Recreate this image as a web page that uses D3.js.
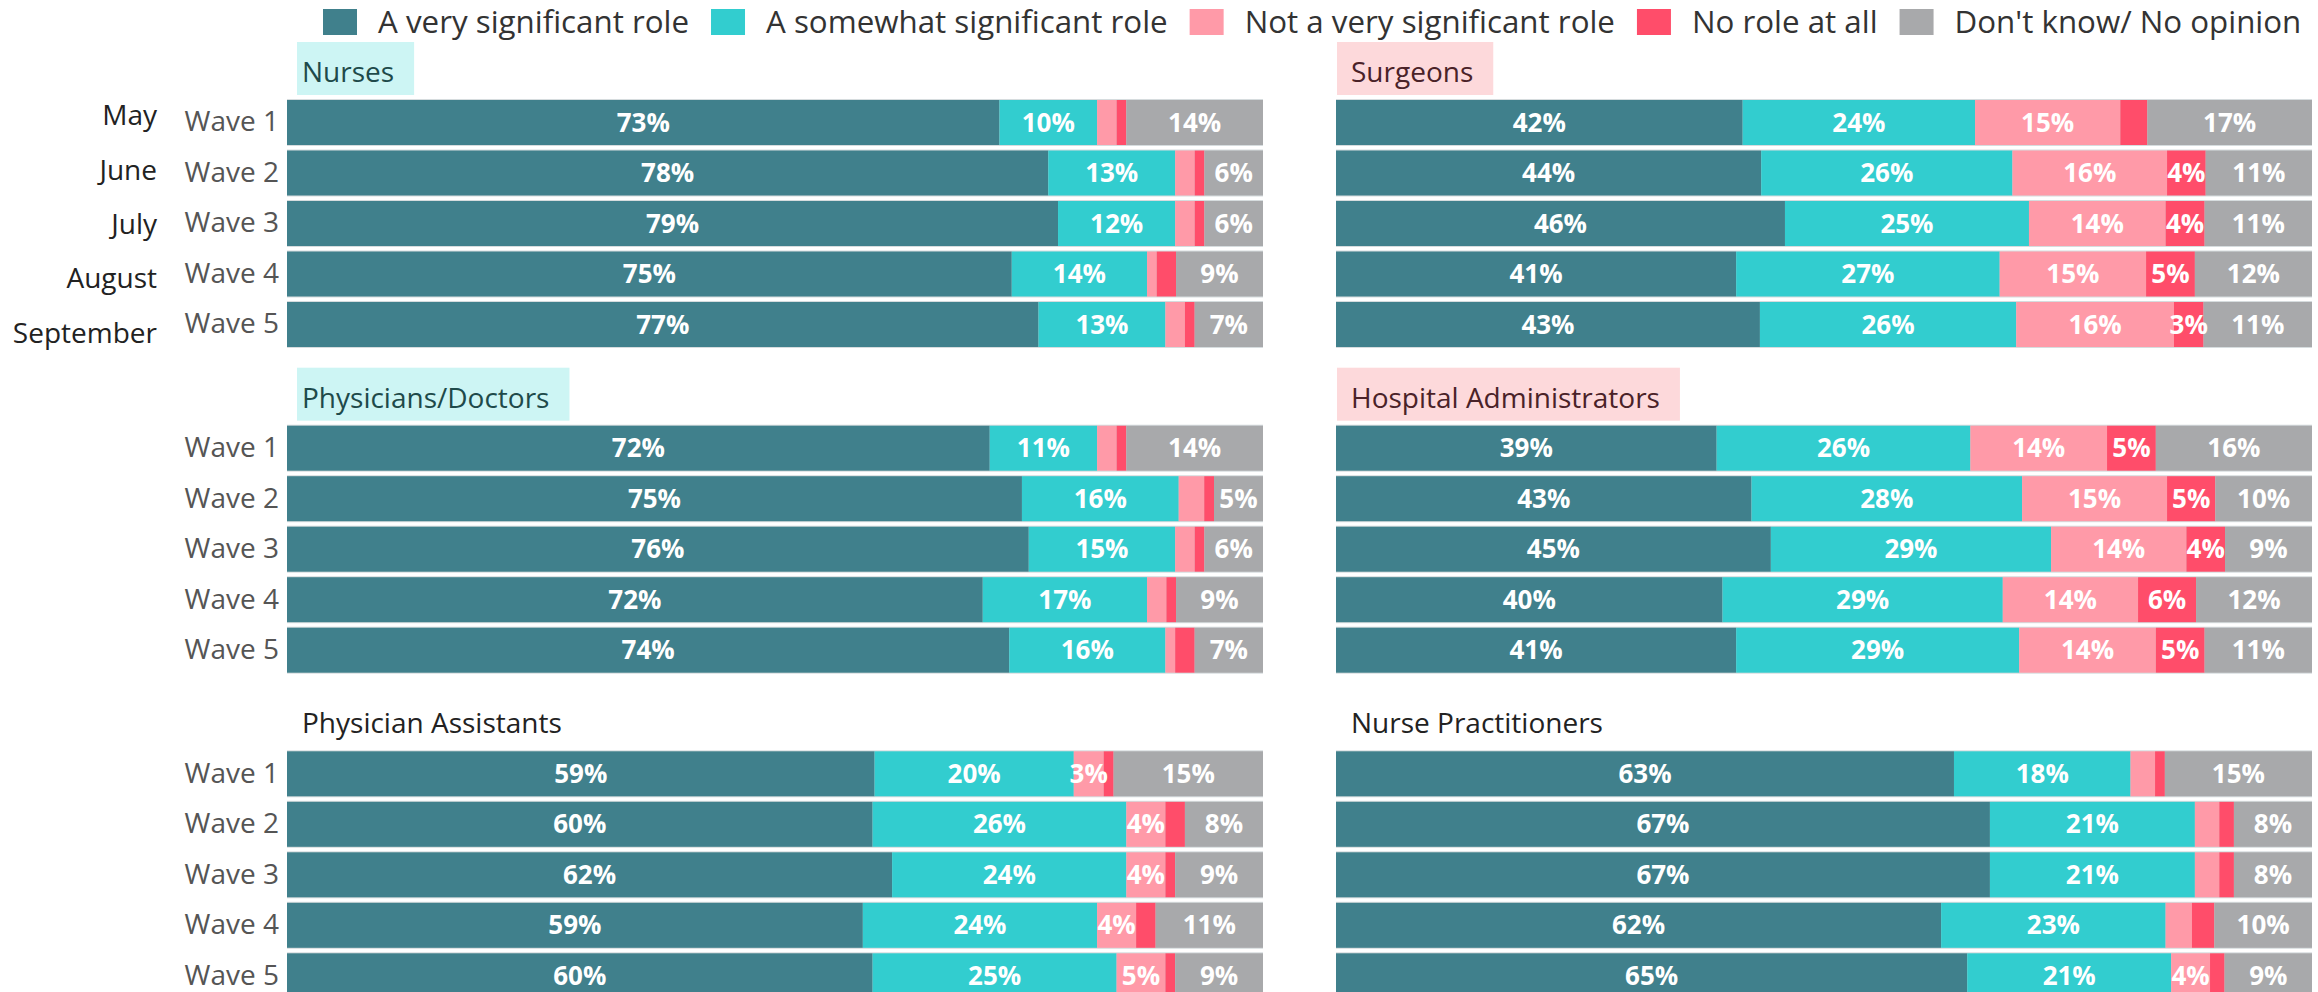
<!DOCTYPE html>
<html>
<head>
<meta charset="utf-8">
<script src="https://cdn.jsdelivr.net/npm/d3@7"></script>
<style>
  body { margin: 0; background: #fff; overflow: hidden; }
  svg { display: block; font-family: "Open Sans", "Noto Sans", sans-serif; }
</style>
</head>
<body>
<svg id="chart"></svg>
<script>
// categorie e colori
const keys = ["A very significant role", "A somewhat significant role", "Not a very significant role", "No role at all", "Don't know/ No opinion"];
const colors = ["#40808c", "#32cdcf", "#ff9aa8", "#ff4d6a", "#a8a9ab"];
const waves = ["Wave 1", "Wave 2", "Wave 3", "Wave 4", "Wave 5"];
const months = ["May", "June", "July", "August", "September"];

// valori (percentuali per wave)
const nurses = [[73, 10, 2, 1, 14], [78, 13, 2, 1, 6], [79, 12, 2, 1, 6], [75, 14, 1, 2, 9], [77, 13, 2, 1, 7]];
const surgeons = [[42, 24, 15, 2.8, 17], [44, 26, 16, 4, 11], [46, 25, 14, 4, 11], [41, 27, 15, 5, 12], [43, 26, 16, 3, 11]];
const physicians = [[72, 11, 2, 1, 14], [75, 16, 2.6, 1, 5], [76, 15, 2, 1, 6], [72, 17, 2, 1, 9], [74, 16, 1, 2, 7]];
const administrators = [[39, 26, 14, 5, 16], [43, 28, 15, 5, 10], [45, 29, 14, 4, 9], [40, 29, 14, 6, 12], [41, 29, 14, 5, 11]];
const assistants = [[59, 20, 3, 1, 15], [60, 26, 4, 2, 8], [62, 24, 4, 1, 9], [59, 24, 4, 2, 11], [60, 25, 5, 1, 9]];
const practitioners = [[63, 18, 2.5, 1, 15], [67, 21, 2.5, 1.5, 8], [67, 21, 2.5, 1.5, 8], [62, 23, 2.7, 2.3, 10], [65, 21, 4, 1.5, 9]];

const panelTitles = ["Nurses", "Surgeons", "Physicians/Doctors", "Hospital Administrators", "Physician Assistants", "Nurse Practitioners"];
const panelData = [nurses, surgeons, physicians, administrators, assistants, practitioners];
const boxColors = ["#cdf5f4", "#fdd9db", "#cdf5f4", "#fdd9db", "none", "none"];
const titleColors = ["#1e4a4a", "#4a2228", "#1e4a4a", "#4a2228", "#222", "#222"];

const width = 2318, height = 992;
const colX = [287, 1336];
const barW = 976;
const rowTop = [100, 425.7, 751.3];
const step = 50.5, barH = 45;

const svg = d3.select("#chart").attr("width", width).attr("height", height);

const color = d3.scaleOrdinal().domain(keys).range(colors);

// Legenda
const legend = svg.append("g").attr("class", "legend");
let lx = 323;
keys.forEach(k => {
  const g = legend.append("g").attr("transform", `translate(${lx},0)`);
  g.append("rect").attr("x", 0).attr("y", 9).attr("width", 34).attr("height", 26)
    .attr("fill", color(k));
  const t = g.append("text").attr("x", 55).attr("y", 22).attr("dy", "0.35em")
    .attr("font-size", 31.3).attr("fill", "#333").text(k);
  lx += 55 + t.node().getComputedTextLength() + 22;
});

// Pannelli
panelData.forEach((rows, p) => {
  const col = p % 2, row = Math.floor(p / 2);
  const x0 = colX[col], top = rowTop[row];

  const table = rows.map((v, i) => {
    const o = { wave: waves[i] };
    keys.forEach((k, j) => o[k] = v[j]);
    return o;
  });
  const series = d3.stack().keys(keys).offset(d3.stackOffsetExpand)(table);

  const x = d3.scaleLinear().domain([0, 1]).range([x0, x0 + barW]);
  const y = d3.scaleBand().domain(waves)
    .range([top, top + 5 * step - (step - barH)])
    .paddingInner((step - barH) / step).paddingOuter(0);

  const g = svg.append("g").attr("class", "panel");

  // titolo con riquadro colorato
  const boxX = col === 0 ? x0 + 10 : x0 + 1;
  const box = g.append("rect").attr("x", boxX).attr("y", top - 58).attr("height", 53)
    .attr("fill", boxColors[p]);
  const title = g.append("text").attr("x", x0 + 15).attr("y", top - 18)
    .attr("font-size", 28).attr("fill", titleColors[p]).text(panelTitles[p]);
  box.attr("width", title.node().getComputedTextLength() + (x0 + 15 - boxX) + 20);

  // bordo leggero delle barre
  g.append("g").selectAll("rect").data(waves).join("rect")
    .attr("x", x0).attr("y", d => y(d) - 1)
    .attr("width", barW).attr("height", y.bandwidth() + 2)
    .attr("fill", "#d6dcde");

  const layer = g.append("g").selectAll("g").data(series).join("g")
    .attr("fill", d => color(d.key));
  layer.selectAll("rect").data(d => d).join("rect")
    .attr("x", d => x(d[0]))
    .attr("y", d => y(d.data.wave))
    .attr("width", d => x(d[1]) - x(d[0]))
    .attr("height", y.bandwidth());

  // etichette percentuali
  const labels = [];
  series.forEach(s => s.forEach(d => {
    const v = d.data[s.key];
    if (v >= 3) labels.push({ v, cx: (x(d[0]) + x(d[1])) / 2, cy: y(d.data.wave) + y.bandwidth() / 2 });
  }));
  g.append("g").selectAll("text").data(labels).join("text")
    .attr("x", d => d.cx).attr("y", d => d.cy).attr("dy", "0.35em")
    .attr("text-anchor", "middle").attr("font-size", 26).attr("font-weight", 700)
    .attr("fill", "#fff").text(d => Math.round(d.v) + "%");

  // asse con le wave solo a sinistra
  if (col === 0) {
    const axis = g.append("g").attr("transform", `translate(${x0},0)`)
      .call(d3.axisLeft(y).tickSize(0).tickPadding(8));
    axis.select(".domain").remove();
    axis.selectAll("text").attr("font-size", 28).attr("fill", "#555")
      .attr("font-family", "'Open Sans', sans-serif");
  }
});

// mesi accanto al primo pannello
const m = d3.scalePoint().domain(months).range([115.5, 333]);
svg.append("g").selectAll("text").data(months).join("text")
  .attr("x", 157).attr("y", d => m(d)).attr("dy", "0.35em")
  .attr("text-anchor", "end").attr("font-size", 28).attr("fill", "#222")
  .text(d => d);
</script>
</body>
</html>
